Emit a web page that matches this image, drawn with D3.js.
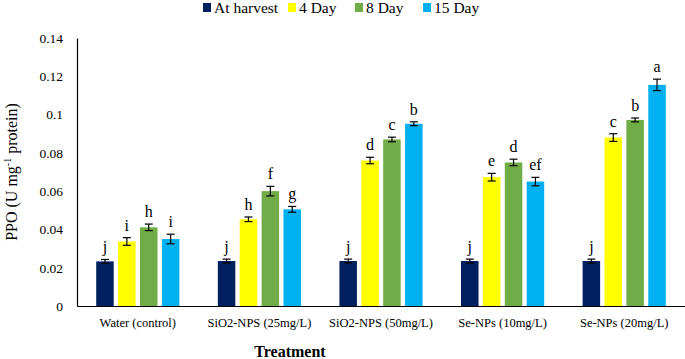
<!DOCTYPE html>
<html>
<head>
<meta charset="utf-8">
<script src="https://cdn.jsdelivr.net/npm/d3@7/dist/d3.min.js"></script>
</head>
<body style="margin:0; background:#fff">
<svg width="685" height="359" style="font-family:'Liberation Serif'"></svg>
<script>
// dữ liệu
const treatments = ["Water (control)", "SiO2-NPS (25mg/L)", "SiO2-NPS (50mg/L)", "Se-NPs (10mg/L)", "Se-NPs (20mg/L)"];
const seriesNames = ["At harvest", "4 Day", "8 Day", "15 Day"];
const seriesColors = ["#002060", "#FFFF00", "#70AD47", "#00B0F0"];

const atHarvest = [0.0233, 0.0235, 0.0235, 0.0235, 0.0235];
const day4 = [0.0337, 0.0453, 0.0760, 0.0673, 0.0880];
const day8 = [0.0411, 0.0600, 0.0870, 0.0750, 0.0972];
const day15 = [0.0350, 0.0505, 0.0952, 0.0650, 0.1155];

const errHarvest = [0.0010, 0.0010, 0.0010, 0.0010, 0.0010];
const err4 = [0.0020, 0.0012, 0.0017, 0.0020, 0.0020];
const err8 = [0.0017, 0.0025, 0.0012, 0.0017, 0.0010];
const err15 = [0.0025, 0.0015, 0.0010, 0.0022, 0.0030];

const lettersHarvest = ["j", "j", "j", "j", "j"];
const letters4 = ["i", "h", "d", "e", "c"];
const letters8 = ["h", "f", "c", "d", "b"];
const letters15 = ["i", "g", "b", "ef", "a"];

const yTicks = [0, 0.02, 0.04, 0.06, 0.08, 0.1, 0.12, 0.14];

const FONT = "Liberation Serif";

const values = [atHarvest, day4, day8, day15];
const errors = [errHarvest, err4, err8, err15];
const letters = [lettersHarvest, letters4, letters8, letters15];

const dataset = [];
treatments.forEach((t, i) => {
    seriesNames.forEach((s, j) => {
        dataset.push({ treatment: t, series: s, value: values[j][i], err: errors[j][i], letter: letters[j][i] });
    });
});

const margin = { top: 38, right: 0, bottom: 53, left: 77 },
      width = 685 - margin.left - margin.right,
      height = 359 - margin.top - margin.bottom;

const svg = d3.select("svg")
    .append("g")
    .attr("transform", `translate(${margin.left},${margin.top})`);

const x0 = d3.scaleBand()
    .domain(treatments)
    .range([0, width])
    .paddingInner(0.28)
    .paddingOuter(0.14);

const x1 = d3.scaleBand()
    .domain(seriesNames)
    .range([0, x0.bandwidth()])
    .paddingInner(0.2)
    .paddingOuter(0.1);

const y = d3.scaleLinear()
    .domain([0, 0.14])
    .range([height, 0]);

const color = d3.scaleOrdinal()
    .domain(seriesNames)
    .range(seriesColors);

// cột
const bars = svg.append("g")
    .selectAll("g")
    .data(dataset)
    .enter().append("g")
    .attr("transform", d => `translate(${x0(d.treatment) + x1(d.series)},0)`);

bars.append("rect")
    .attr("x", 0)
    .attr("y", d => y(d.value))
    .attr("width", x1.bandwidth())
    .attr("height", d => height - y(d.value))
    .attr("fill", d => color(d.series));

// thanh sai số
const cx = x1.bandwidth() / 2;
bars.append("line")
    .attr("x1", cx).attr("x2", cx)
    .attr("y1", d => y(d.value + d.err))
    .attr("y2", d => y(d.value - d.err))
    .attr("stroke", "#000").attr("stroke-width", 1.2);
bars.append("line")
    .attr("x1", cx - 4).attr("x2", cx + 4)
    .attr("y1", d => y(d.value + d.err))
    .attr("y2", d => y(d.value + d.err))
    .attr("stroke", "#000").attr("stroke-width", 1.2);
bars.append("line")
    .attr("x1", cx - 4).attr("x2", cx + 4)
    .attr("y1", d => y(d.value - d.err))
    .attr("y2", d => y(d.value - d.err))
    .attr("stroke", "#000").attr("stroke-width", 1.2);

// chữ cái
bars.append("text")
    .attr("x", cx)
    .attr("y", d => y(d.value + d.err) - 7)
    .attr("text-anchor", "middle")
    .style("font-family", FONT)
    .style("font-size", "16px")
    .text(d => d.letter);

// trục
const yAxis = svg.append("g")
    .call(d3.axisLeft(y).tickValues(yTicks).tickSize(0).tickPadding(14).tickFormat(d => d === 0 ? "0" : String(+d.toFixed(2))));
yAxis.attr("font-family", FONT);
yAxis.selectAll("text").style("font-size", "13.5px").style("font-family", FONT);
yAxis.select(".domain").attr("stroke-width", 1.2);

const xAxis = svg.append("g")
    .attr("transform", `translate(0,${height})`)
    .call(d3.axisBottom(x0).tickSize(0).tickPadding(12));
xAxis.attr("font-family", FONT);
xAxis.selectAll("text").style("font-size", "12.5px").style("font-family", FONT);
xAxis.select(".domain").attr("stroke-width", 1.2);

// nhãn trục
svg.append("text")
    .attr("text-anchor", "middle")
    .attr("x", 290 - margin.left)
    .attr("y", height + 51)
    .style("font-family", FONT)
    .style("font-size", "16px")
    .style("font-weight", "bold")
    .text("Treatment");

const yLabel = svg.append("text")
    .attr("text-anchor", "middle")
    .attr("transform", "rotate(-90)")
    .attr("x", -(172 - margin.top))
    .attr("y", -margin.left + 17)
    .style("font-family", FONT)
    .style("font-size", "16px");
yLabel.append("tspan").text("PPO (U mg");
yLabel.append("tspan").attr("dy", -6).style("font-size", "10px").text("-1");
yLabel.append("tspan").attr("dy", 6).text(" protein)");

// chú thích
const legendX = [203, 288, 355, 423];
const legend = d3.select("svg").append("g");
seriesNames.forEach((s, i) => {
    const row = legend.append("g")
        .attr("transform", `translate(${legendX[i]}, 3)`);
    row.append("rect")
        .attr("width", 8)
        .attr("height", 9)
        .attr("fill", color(s));
    row.append("text")
        .attr("x", 11)
        .attr("y", 9.5)
        .style("font-family", FONT)
        .style("font-size", "15.5px")
        .text(s);
});
</script>
</body>
</html>
